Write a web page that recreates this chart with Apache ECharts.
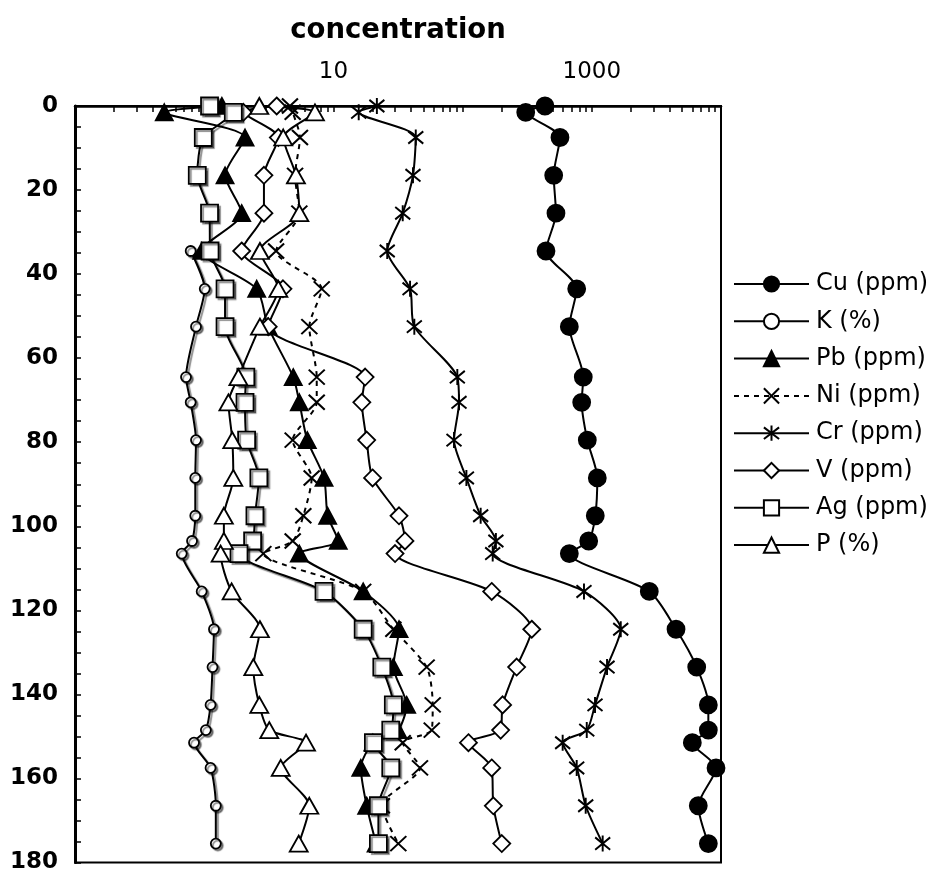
<!DOCTYPE html>
<html>
<head>
<meta charset="utf-8">
<script src="https://cdn.jsdelivr.net/npm/echarts@6/dist/echarts.min.js"></script>
<style>
  html, body { margin: 0; padding: 0; background: #fff; }
  #chart { width: 931px; height: 874px; }
</style>
</head>
<body>
<div id="chart"></div>
<script>
// Sample depths (y axis)
const depths = [0, 1.5, 7.5, 16.5, 25.5, 34.5, 43.5, 52.5, 64.5, 70.5, 79.5, 88.5, 97.5, 103.5, 106.5, 115.5, 124.5, 133.5, 142.5, 148.5, 151.5, 157.5, 166.5, 175.5];

// Concentrations per series (same order as depths)
const cu = [434, 308, 567, 507, 528, 442, 764, 670, 859, 835, 923, 1103, 1064, 946, 670, 2786, 4486, 6486, 7980, 7980, 5998, 9150, 6670, 7980];
const kPct = [null, null, null, null, null, 0.786, 1.01, 0.864, 0.723, 0.786, 0.864, 0.853, 0.853, 0.805, 0.670, 0.956, 1.19, 1.16, 1.12, 1.03, 0.834, 1.12, 1.23, 1.23];
const pb = [1.37, 0.491, 2.07, 1.45, 1.95, 0.956, 2.55, 3.12, 4.89, 5.45, 6.28, 8.46, 9.03, 10.9, 5.45, 17.0, 32.2, 29.1, 36.9, 31.6, 20.2, 16.3, 18.1, 21.4];
const ni = [4.61, 4.84, 5.51, 5.05, 5.45, 3.60, 8.12, 6.51, 7.43, 7.43, 4.84, 6.79, 5.85, 4.84, 2.87, 17.0, 29.1, 52.7, 58.7, 57.7, 34.4, 46.8, 23.7, 31.8];
const cr = [21.7, 15.7, 43.4, 41.3, 34.4, 26.1, 39.2, 42.3, 91.0, 93.8, 85.8, 107, 138, 181, 171, 870, 1675, 1312, 1059, 914, 595, 764, 897, 1214];
const v = [3.64, 2.01, 3.75, 2.90, 2.90, 1.95, 4.07, 3.13, 17.6, 16.6, 18.1, 20.1, 32.2, 35.8, 30.0, 168, 343, 262, 204, 197, 111, 168, 173, 201];
const ag = [1.10, 1.68, 0.984, 0.884, 1.10, 1.11, 1.45, 1.45, 2.10, 2.07, 2.13, 2.65, 2.47, 2.37, 1.86, 8.46, 17.0, 23.7, 29.1, 27.8, 20.4, 27.8, 22.3, 22.3];
const pPct = [2.67, 7.20, 4.09, 5.13, 5.45, 2.70, 3.75, 2.70, 1.84, 1.54, 1.65, 1.68, 1.42, 1.42, 1.34, 1.63, 2.70, 2.40, 2.67, 3.19, 6.14, 3.91, 6.51, 5.39];

const seriesNames = ['Cu (ppm)', 'K (%)', 'Pb (ppm)', 'Ni (ppm)', 'Cr (ppm)', 'V (ppm)', 'Ag (ppm)', 'P (%)'];
const xTickLabels = [10, 1000];
const yTickLabels = [0, 20, 40, 60, 80, 100, 120, 140, 160, 180];

const FONT = 'DejaVu Sans';

function pairs(vals) {
  const out = [];
  vals.forEach((val, i) => { if (val != null) out.push([val, depths[i]]); });
  return out;
}

// log minor tick positions 0.1 .. 10000
const xTickValues = [];
for (let e = -1; e <= 3; e++) {
  for (let m = 1; m <= 9; m++) xTickValues.push(+(m * Math.pow(10, e)).toPrecision(3));
}
xTickValues.push(10000);

const X_PATH = 'path://M0,0L10,10M10,0L0,10';
const STAR_PATH = 'path://M0,0L10,10M10,0L0,10M5,-1.5L5,11.5';

function mkSeries(name, vals, opts) {
  const shadow = opts.shadow ? { shadowColor: 'rgba(0,0,0,0.45)', shadowBlur: 1, shadowOffsetX: 2, shadowOffsetY: 2 } : {};
  return {
    name: name,
    type: 'line',
    data: pairs(vals),
    smooth: 0.25,
    symbol: opts.symbol,
    symbolSize: opts.size,
    showAllSymbol: true,
    lineStyle: Object.assign({ color: '#000', width: 2, type: opts.dash ? [5, 5] : 'solid' }, shadow),
    itemStyle: Object.assign({ color: opts.fill, borderColor: '#000', borderWidth: opts.bw || 1.8, opacity: 1 }, shadow),
    emphasis: { disabled: true }
  };
}

const chart = echarts.init(document.getElementById('chart'), null, { renderer: 'canvas' });

chart.setOption({
  animation: false,
  backgroundColor: '#fff',
  textStyle: { fontFamily: FONT },
  grid: {
    left: 75, right: 210, top: 106, bottom: 9,
    show: true, borderColor: '#000', borderWidth: 2, backgroundColor: 'transparent'
  },
  legend: {
    orient: 'vertical',
    left: 733,
    top: 272,
    itemWidth: 75,
    itemHeight: 19,
    itemGap: 13.3,
    padding: 0,
    data: seriesNames,
    textStyle: { fontFamily: FONT, fontSize: 24, color: '#000', lineHeight: 24, padding: [0, 0, 0, 2] },
    selectedMode: false
  },
  xAxis: {
    type: 'log',
    logBase: 10,
    position: 'top',
    min: 0.1,
    max: 10000,
    name: 'concentration',
    nameLocation: 'middle',
    nameGap: 61,
    nameTextStyle: { fontFamily: FONT, fontSize: 27.5, fontWeight: 'bold', color: '#000' },
    axisLine: { show: true, lineStyle: { color: '#000', width: 2.5 } },
    axisTick: { show: true, inside: true, length: 6, customValues: xTickValues, lineStyle: { color: '#000', width: 1.5 } },
    axisLabel: { show: true, customValues: xTickLabels, margin: 22, fontFamily: FONT, fontSize: 23, color: '#000', formatter: (val) => String(Math.round(val)) },
    splitLine: { show: false }
  },
  yAxis: {
    type: 'value',
    inverse: true,
    min: 0,
    max: 180,
    interval: 20,
    axisLine: { show: true, lineStyle: { color: '#000', width: 3 } },
    axisTick: { show: true, inside: true, length: 6, lineStyle: { color: '#000', width: 1.5 } },
    minorTick: { show: true, splitNumber: 4, length: 6, lineStyle: { color: '#000', width: 1.5 } },
    axisLabel: { margin: 17, fontFamily: FONT, fontSize: 23, fontWeight: 'bold', color: '#000',
      formatter: (val) => yTickLabels.indexOf(val) >= 0 ? String(val) : '' },
    splitLine: { show: false }
  },
  series: [
    mkSeries(seriesNames[0], cu, { symbol: 'circle', size: 17, fill: '#000' }),
    mkSeries(seriesNames[1], kPct, { symbol: 'circle', size: [10, 10], fill: '#fff', shadow: true }),
    mkSeries(seriesNames[2], pb, { symbol: 'triangle', size: [17, 16], fill: '#000' }),
    mkSeries(seriesNames[3], ni, { symbol: X_PATH, size: [16, 15], fill: 'none', dash: true, bw: 2 }),
    mkSeries(seriesNames[4], cr, { symbol: STAR_PATH, size: [15, 16], fill: 'none', bw: 2 }),
    mkSeries(seriesNames[5], v, { symbol: 'diamond', size: [17, 17], fill: '#fff' }),
    mkSeries(seriesNames[6], ag, { symbol: 'rect', size: 17, fill: '#fff', shadow: true }),
    mkSeries(seriesNames[7], pPct, { symbol: 'triangle', size: [18, 16], fill: '#fff' })
  ]
});
</script>
</body>
</html>
